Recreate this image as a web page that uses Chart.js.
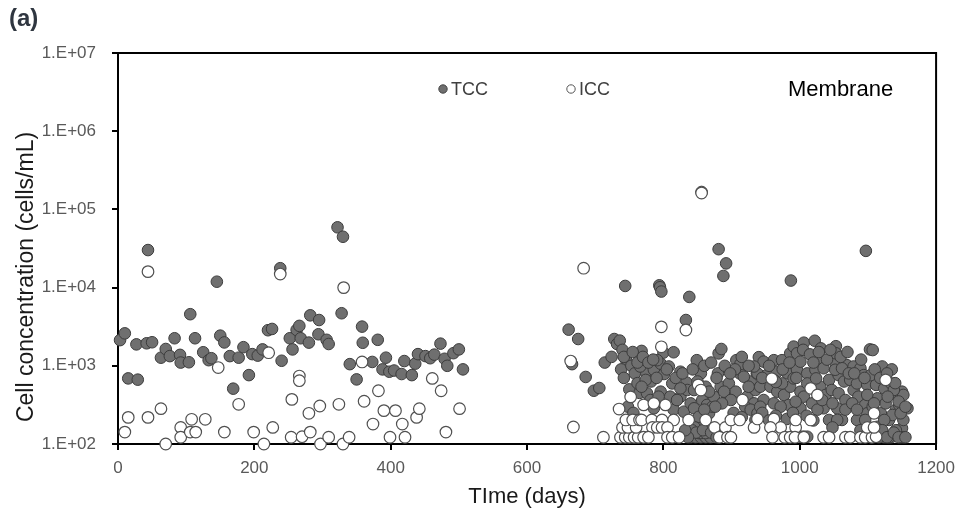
<!DOCTYPE html>
<html>
<head>
<meta charset="utf-8">
<script src="https://cdn.jsdelivr.net/npm/chart.js@4.4.1/dist/chart.umd.min.js"></script>
<style>
  html, body { margin: 0; padding: 0; background: #ffffff; }
  #wrap { width: 963px; height: 515px; position: relative; }
</style>
</head>
<body>
<div id="wrap"><canvas id="c" width="963" height="515"></canvas></div>
<script>
// ---- data ----
const seriesNames = ['TCC', 'ICC'];
const panelLabel = '(a)';
const panelTitle = 'Membrane';
const xAxisTitle = 'TIme (days)';
const yAxisTitle = 'Cell concentration (cells/mL)';
const xTickValues = [0, 200, 400, 600, 800, 1000, 1200];
const xTickLabels = ['0', '200', '400', '600', '800', '1000', '1200'];
const yTickValues = [1e2, 1e3, 1e4, 1e5, 1e6, 1e7];
const yTickLabels = ['1.E+02', '1.E+03', '1.E+04', '1.E+05', '1.E+06', '1.E+07'];

const tccDays = [
  3,10,15,29,27,42,44,50,63,70,76,83,91,92,104,106,113,125,133,137,145,150,156,164,169,177,184,192,197,205,
  212,220,226,238,240,252,256,262,266,268,280,282,295,294,306,309,322,330,328,340,350,358,359,373,381,388,393,398,405,416,
  420,431,436,440,451,458,464,473,479,483,492,500,506,
  661,675,666,686,698,706,714,724,728,732,736,740,744,745,738,742,750,753,758,762,765,748,756,760,745,752,758,764,
  768,773,775,776,781,782,786,786,794,795,797,796,796,800,801,810,813,815,815,825,830,833,834,835,838,840,840,845,847,849,
  850,852,855,855,856,857,862,864,867,869,872,874,880,881,881,884,885,888,892,894,896,906,907,912,913,923,928,933,935,937,
  938,940,942,947,947,952,957,962,967,967,974,977,981,982,984,986,986,987,991,996,996,1001,1001,1001,1006,1006,1006,1011,1011,1018,
  1022,1023,1025,1030,1031,1035,1035,1038,1043,1043,1047,1051,1053,1053,1055,1057,1057,1062,1065,1067,1067,1069,1074,1079,1079,1084,1084,1086,1089,1096,
  1097,1099,1099,1103,1104,1107,1112,1114,1114,1119,1121,1124,1124,1126,1131,1134,1134,1135,1141,1143,1148,1150,1150,1152,1152,1158,
  766,774,791,808,825,793,820,768,825,845,850,862,867,889,899,886,876,860,852,846,855,862,865,
  918,925,933,920,928,938,935,962,974,991,1011,1024,1052,1062,1072,1094,1104,1099,1107,942,962,972,994,1026,1033,1048,1077,1084,1096,1055,1048,1089,1001,
  1109,1138,1129,1146,1136,1148,1124,1141,1119,1131,1152,1116,
  905,915,925,945,955,965,975,985,995,1005,1015,1020,1028,1040,1045,1060,1070,1080,1090,1095,1110,1118,1128,1140,1145,1155,
  842,848,858,870,878,836,832,1105,1113,1121,1128,1138,1145,1155,
  742,755,762,770,778,785,790,805,818,828,843,860,870,878,890,898,
  903,915,945,955,965,990,1010,1020
];
const tccValues = [
  2130,2600,690,665,1880,1940,30200,2000,1270,1640,1330,2250,1380,1100,1110,4570,2250,1490,1180,1250,11900,2430,1990,1330,510,1270,1730,760,1410,1350,
  1620,2850,2960,17700,1160,2250,1620,2880,3240,2250,1980,4420,3850,2530,2150,1900,59000,44700,4700,1050,670,3170,1970,1120,2150,900,1270,840,870,785,
  1150,760,1065,1410,1330,1250,1390,1920,1230,1000,1450,1620,900,
  2900,2200,1050,720,480,520,1100,1300,2200,1900,2100,1600,10500,1200,900,700,500,1000,800,600,450,300,250,200,150,122,122,122,
  1550,980,800,445,365,630,890,286,10700,10100,8900,1065,467,1475,785,403,595,1490,275,403,259,3850,610,490,7600,331,122,286,122,1180,
  163,223,800,122,167000,365,122,316,247,122,300,403,800,1440,31000,540,1640,14100,20400,403,595,467,1180,800,1055,403,630,331,490,800,
  800,1290,540,1130,365,760,540,1180,840,467,1180,424,209,800,316,1445,540,12300,1760,1445,890,1130,467,286,1975,403,124,800,124,331,
  2090,890,1210,540,1670,930,286,424,660,203,490,1130,1780,1445,286,760,445,203,630,365,275,1020,660,980,490,595,203,403,930,316,
  29500,570,247,1620,159,1590,570,384,166,247,980,515,122,331,203,595,122,900,275,424,122,467,159,424,203,286,
  980,660,1180,980,840,403,365,540,515,490,630,540,467,467,365,331,300,275,138,163,138,138,163,
  725,540,980,300,275,247,203,660,595,690,595,690,890,930,800,760,760,424,300,300,331,300,347,275,365,331,331,275,203,203,163,150,124,
  331,490,403,316,235,247,203,150,150,122,122,122,
  900,1300,1000,700,1000,620,900,1100,700,1600,1400,1100,1500,1200,1600,1300,1500,800,1200,700,900,700,800,600,350,300,
  150,140,150,140,122,122,150,122,140,150,122,140,122,122,
  1300,1500,1100,1300,1100,1200,700,900,700,800,900,1000,1100,700,1000,800,
  250,220,250,200,230,250,230,200
];

const iccDays = [
  44,238,15,10,44,63,70,92,92,108,106,114,128,156,147,177,199,214,221,227,255,254,266,266,270,280,282,296,297,309,
  331,324,330,339,358,361,382,374,390,407,399,417,421,438,442,461,474,481,501,
  664,668,683,712,737,744,750,757,763,740,748,760,745,755,765,735,752,
  797,833,797,856,768,783,798,815,837,851,855,862,875,891,899,916,912,784,791,798,806,771,778,806,813,823,882,894,899,771,803,786,933,
  959,1016,1026,962,938,972,994,957,994,1016,960,978,986,993,1006,1035,1043,1067,1074,1089,1096,1106,1099,1126,1109,1112,1109
];
const iccValues = [
  16000,14900,219,142,219,283,100,163,122,207,142,142,207,142,950,322,142,100,1470,163,372,122,740,645,124,247,142,306,100,122,
  10000,322,100,122,1120,352,480,180,267,267,122,180,122,219,283,690,480,142,283,
  1150,165,17700,122,122,122,122,122,122,163,163,163,203,203,203,280,400,
  3150,2870,1750,162000,203,203,203,203,203,570,490,203,163,163,203,365,203,163,163,163,163,122,122,122,122,122,122,122,122,316,316,331,163,
  685,515,424,209,209,163,163,163,203,203,122,122,122,122,122,122,122,122,122,122,122,122,163,660,247,124,163
];

// ---- build chart ----
const toPoints = (xs, ys) => xs.map((x, i) => ({ x: x, y: ys[i] }));
const FONT = "'Liberation Sans', Arial, sans-serif";

const extras = {
  id: 'extras',
  beforeDatasetsDraw(chart) {
    const { ctx, chartArea: a } = chart;
    ctx.save();
    ctx.strokeStyle = '#000';
    ctx.lineWidth = 2;
    ctx.beginPath();
    ctx.moveTo(a.left, a.top);
    ctx.lineTo(a.right, a.top);
    ctx.lineTo(a.right, a.bottom);
    ctx.stroke();
    ctx.restore();
  },
  afterDraw(chart) {
    const { ctx, chartArea: a } = chart;
    ctx.save();
    // panel label
    ctx.fillStyle = '#2f3640';
    ctx.font = 'bold 24px ' + FONT;
    ctx.textBaseline = 'middle';
    ctx.textAlign = 'left';
    ctx.fillText(panelLabel, 9, 19);
    // legend
    const ly = 89;
    ctx.lineWidth = 1;
    ctx.beginPath(); ctx.arc(443, ly, 4.2, 0, Math.PI * 2);
    ctx.fillStyle = '#6f6f6f'; ctx.fill(); ctx.strokeStyle = '#444'; ctx.stroke();
    ctx.beginPath(); ctx.arc(571, ly, 4.2, 0, Math.PI * 2);
    ctx.fillStyle = '#fff'; ctx.fill(); ctx.strokeStyle = '#555'; ctx.stroke();
    ctx.fillStyle = '#404040';
    ctx.font = '18px ' + FONT;
    ctx.fillText(seriesNames[0], 451, ly + 1);
    ctx.fillText(seriesNames[1], 579, ly + 1);
    // panel title
    ctx.fillStyle = '#000';
    ctx.font = '22px ' + FONT;
    ctx.fillText(panelTitle, 788, ly + 1);
    // axis titles
    ctx.fillStyle = '#1a1a1a';
    ctx.font = '22px ' + FONT;
    ctx.textAlign = 'center';
    ctx.fillText(xAxisTitle, (a.left + a.right) / 2, 497);
    ctx.translate(27, 277);
    ctx.rotate(-Math.PI / 2);
    ctx.font = '23px ' + FONT;
    ctx.fillText(yAxisTitle, 0, 0);
    ctx.restore();
  }
};

new Chart(document.getElementById('c'), {
  type: 'scatter',
  data: {
    datasets: [
      {
        label: seriesNames[0],
        data: toPoints(tccDays, tccValues),
        backgroundColor: '#6f6f6f',
        borderColor: '#3c3c3c',
        borderWidth: 1,
        pointRadius: 5.8,
        clip: false,
        order: 1
      },
      {
        label: seriesNames[1],
        data: toPoints(iccDays, iccValues),
        backgroundColor: '#ffffff',
        borderColor: '#505050',
        borderWidth: 1.2,
        pointRadius: 5.8,
        clip: false,
        order: 0
      }
    ]
  },
  options: {
    responsive: false,
    animation: false,
    events: [],
    layout: { padding: { top: 53, right: 26, left: 0, bottom: 0 } },
    plugins: { legend: { display: false }, tooltip: { enabled: false }, title: { display: false } },
    scales: {
      x: {
        type: 'linear',
        min: 0, max: 1200,
        afterBuildTicks: (s) => { s.ticks = xTickValues.map(v => ({ value: v })); },
        afterFit: (s) => { s.height = 71; },
        grid: { drawOnChartArea: false, drawTicks: true, tickLength: 6, color: '#000', lineWidth: 2 },
        border: { display: true, color: '#000', width: 2 },
        ticks: {
          color: '#595959', font: { family: FONT, size: 17 }, padding: 8, maxRotation: 0,
          callback: (v) => { const i = xTickValues.indexOf(v); return i >= 0 ? xTickLabels[i] : ''; }
        }
      },
      y: {
        type: 'logarithmic',
        min: 100, max: 1e7,
        afterBuildTicks: (s) => { s.ticks = yTickValues.map(v => ({ value: v })); },
        afterFit: (s) => { s.width = 118; },
        grid: { drawOnChartArea: false, drawTicks: true, tickLength: 6, color: '#000', lineWidth: 2 },
        border: { display: true, color: '#000', width: 2 },
        ticks: {
          color: '#595959', font: { family: FONT, size: 17 }, padding: 16,
          callback: (v) => { const i = yTickValues.indexOf(v); return i >= 0 ? yTickLabels[i] : ''; }
        }
      }
    }
  },
  plugins: [extras]
});
</script>
</body>
</html>
